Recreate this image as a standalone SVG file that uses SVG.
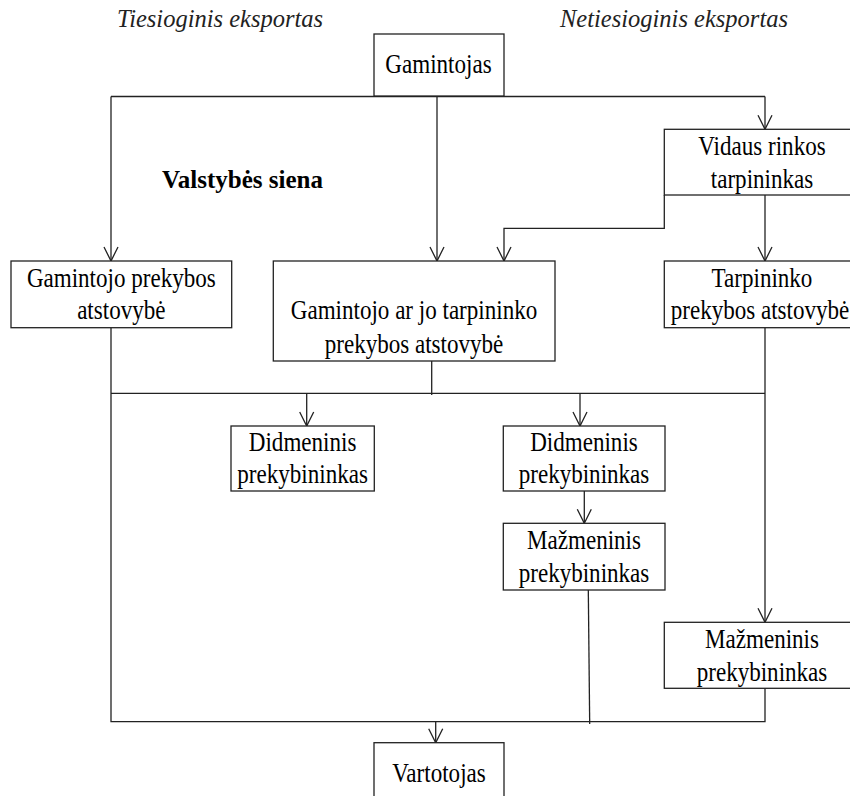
<svg xmlns="http://www.w3.org/2000/svg" width="850" height="796" viewBox="0 0 850 796">
<defs>
<marker id="arr" markerUnits="userSpaceOnUse" markerWidth="16" markerHeight="16" refX="0" refY="0" orient="auto" overflow="visible">
<path d="M-14,-7 L0,0 L-14,7" fill="none" stroke="#222" stroke-width="1.3"/>
</marker>
<style>
.box{fill:#fff;stroke:#222;stroke-width:1.3}
.ln{fill:none;stroke:#222;stroke-width:1.3}
.ar{fill:none;stroke:#222;stroke-width:1.3;marker-end:url(#arr)}
.t{font-family:"Liberation Serif","Times New Roman",serif;font-size:26.5px;fill:#000;text-anchor:middle}
.hi{font-family:"Liberation Serif","Times New Roman",serif;font-size:24.5px;font-style:italic;fill:#222;text-anchor:middle}
.hb{font-family:"Liberation Serif","Times New Roman",serif;font-size:25px;font-weight:bold;fill:#000;text-anchor:middle}
</style>
</defs>
<rect width="850" height="796" fill="#fff"/>

<g id="labels">
<text class="hi" x="220" y="26.5">Tiesioginis eksportas</text>
<text class="hi" x="674" y="26.5">Netiesioginis eksportas</text>
<text class="hb" x="242.5" y="188.3">Valstybės siena</text>
</g>

<g id="connectors">
<path class="ln" d="M111,96.5 H765"/>
<path class="ar" d="M111,96.5 V261"/>
<path class="ar" d="M437,96.5 V261"/>
<path class="ar" d="M765,96.5 V129.3"/>
<path class="ar" d="M664.3,195 V228.3 H504 V261"/>
<path class="ar" d="M765,195 V261"/>
<path class="ln" d="M111,327.7 V721.7 H765 V688.3"/>
<path class="ln" d="M431.7,361 V395"/>
<path class="ln" d="M111,393.3 H765"/>
<path class="ar" d="M765,327.7 V622.3"/>
<path class="ar" d="M306.7,393.3 V426"/>
<path class="ar" d="M580,393.3 V426"/>
<path class="ar" d="M584.3,491 V523.3"/>
<path class="ln" d="M588.3,590 L589.7,724"/>
<path class="ar" d="M435.7,721.7 V742.7"/>
</g>

<g id="gamintojas">
<rect class="box" x="374" y="34" width="130" height="62"/>
<text class="t" transform="translate(438.5,73.3) scale(0.87,1)">Gamintojas</text>
</g>

<g id="vidaus">
<rect class="box" x="664.3" y="129.3" width="210" height="65.7"/>
<text class="t" transform="translate(762,155) scale(0.87,1)">Vidaus rinkos</text>
<text class="t" transform="translate(762,187.7) scale(0.87,1)">tarpininkas</text>
</g>

<g id="gamintojo-prek">
<rect class="box" x="11" y="261" width="220.7" height="66.7"/>
<text class="t" transform="translate(121.3,287.3) scale(0.87,1)">Gamintojo prekybos</text>
<text class="t" transform="translate(121.3,319.3) scale(0.87,1)">atstovybė</text>
</g>

<g id="gamintojo-ar-jo">
<rect class="box" x="273.3" y="261" width="281.7" height="100"/>
<text class="t" transform="translate(414,319.3) scale(0.87,1)">Gamintojo ar jo tarpininko</text>
<text class="t" transform="translate(414,353.3) scale(0.87,1)">prekybos atstovybė</text>
</g>

<g id="tarpininko">
<rect class="box" x="664.3" y="261" width="210" height="66.7"/>
<text class="t" transform="translate(762,287.3) scale(0.87,1)">Tarpininko</text>
<text class="t" transform="translate(760,319.3) scale(0.87,1)">prekybos atstovybė</text>
</g>

<g id="didmeninis-1">
<rect class="box" x="231" y="426" width="143.3" height="65"/>
<text class="t" transform="translate(302.6,451) scale(0.87,1)">Didmeninis</text>
<text class="t" transform="translate(302.6,483.3) scale(0.87,1)">prekybininkas</text>
</g>

<g id="didmeninis-2">
<rect class="box" x="503.3" y="426" width="161.7" height="65"/>
<text class="t" transform="translate(584,451) scale(0.87,1)">Didmeninis</text>
<text class="t" transform="translate(584,483.3) scale(0.87,1)">prekybininkas</text>
</g>

<g id="mazmeninis-1">
<rect class="box" x="503.3" y="523.3" width="161.7" height="66.7"/>
<text class="t" transform="translate(584,549.3) scale(0.87,1)">Mažmeninis</text>
<text class="t" transform="translate(584,581.7) scale(0.87,1)">prekybininkas</text>
</g>

<g id="mazmeninis-2">
<rect class="box" x="664.3" y="622.3" width="210" height="66"/>
<text class="t" transform="translate(762,648.3) scale(0.87,1)">Mažmeninis</text>
<text class="t" transform="translate(762,680.7) scale(0.87,1)">prekybininkas</text>
</g>

<g id="vartotojas">
<rect class="box" x="374" y="742.7" width="130" height="70"/>
<text class="t" transform="translate(439,781.7) scale(0.87,1)">Vartotojas</text>
</g>
</svg>
